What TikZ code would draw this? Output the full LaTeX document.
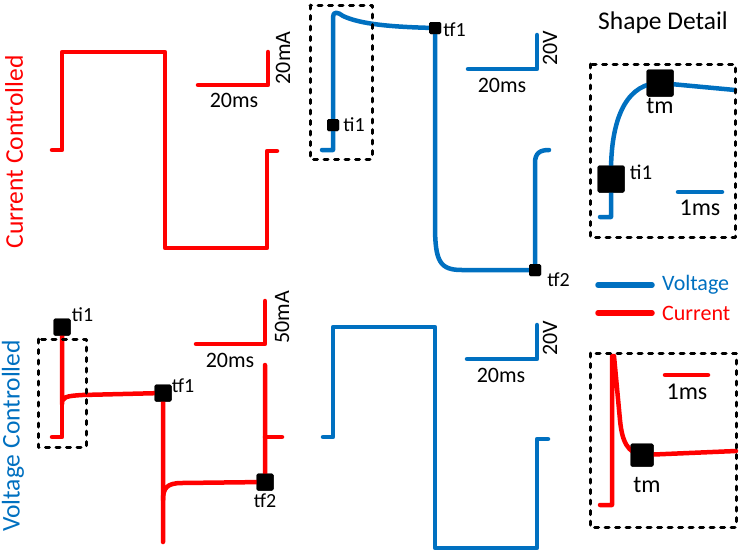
\documentclass[tikz,border=0pt]{standalone}
\usepackage{fontspec}
\setmainfont{Carlito}
\usepackage{xcolor}
\usetikzlibrary{positioning}

\definecolor{vblue}{RGB}{0,112,192}
\definecolor{ired}{RGB}{255,0,0}

\begin{document}
\begin{tikzpicture}[x=1pt, y=-1pt, line join = round, line cap = round,
        wave/.style={line width=4.5pt},
        dbox/.style={black, line width=3pt, dash pattern=on 4pt off 6.5pt},
        tmark/.style={fill=black, rounded corners=1.5pt, inner sep=0pt, minimum size=#1},
        tmark/.default=12pt,
        bigtxt/.style={inner sep=0pt, font=\fontsize{25.5}{30}\selectfont},
        sctxt/.style={inner sep=0pt, font=\fontsize{22}{26}\selectfont},
        smtxt/.style={inner sep=0pt, font=\fontsize{20}{24}\selectfont},
        dtxt/.style={inner sep=0pt, font=\fontsize{24}{28}\selectfont}]

                \useasboundingbox (0,0) rectangle (742,555);

                % row titles
                \node [bigtxt, text=ired, rotate=90] (cclab) at (14,152) {Current Controlled};
                \node [bigtxt, text=vblue, rotate=90] (vclab) at (13,436) {Voltage Controlled};
                \node [bigtxt] (sdlab) at (663,23) {Shape Detail};

                % current controlled: current
                \draw[wave, ired] (52,150) -- (62,150) -- (62,52) -- (165,52) -- (165,248)
                        -- (267,248) -- (267,151) -- (277,151);
                \draw[wave, ired] (198,85) -- (268,85) -- (268,52);
                \node [sctxt] (cc1) at (234,100) {20ms};
                \node [sctxt, rotate=90] (cc2) at (283,58) {20mA};

                % current controlled: voltage
                \node [tmark] (cti1) at (333,125) {};
                \node [tmark] (ctf1) at (435,28) {};
                \node [tmark] (ctf2) at (535,270) {};
                \draw[wave, vblue] (322,150) -- (333,150) -- (cti1.center) -- (333,17)
                        .. controls (333,11) and (338,12) .. (343,16)
                        .. controls (360,24) and (390,27) .. (ctf1.center)
                        -- (435,225) .. controls (435,262) and (440,270) .. (462,270)
                        -- (ctf2.center) -- (535,163) .. controls (535,153) and (540,150) .. (549,150);
                \node [tmark] at (cti1) {};
                \node [tmark] at (ctf1) {};
                \node [tmark] at (ctf2) {};
                \node [smtxt, right=4pt of cti1] (cti1l) {ti1};
                \node [smtxt, right=2pt of ctf1, yshift=-2pt] (ctf1l) {tf1};
                \node [smtxt, right=6pt of ctf2, yshift=-10pt] (ctf2l) {tf2};
                \draw[dbox] (310,5) rectangle (372,159);
                \draw[wave, vblue] (468,69) -- (537,69) -- (537,35);
                \node [sctxt] (cc3) at (502,85) {20ms};
                \node [sctxt, rotate=90] (cc4) at (550,48) {20V};

                % voltage controlled: current
                \node [tmark=17pt] (vti1) at (62,327) {};
                \node [tmark=17pt] (vtf1) at (163,393) {};
                \node [tmark=17pt] (vtf2) at (265,482) {};
                \draw[wave, ired] (52,437) -- (62,437) -- (vti1.center);
                \draw[wave, ired] (vti1.center) -- (62,404) .. controls (62,397) and (66,396) .. (82,395)
                        -- (vtf1.center) -- (163,542);
                \draw[wave, ired] (163,500) .. controls (163,488) and (167,483) .. (182,483)
                        -- (vtf2.center) -- (265,365);
                \draw[wave, ired] (265,437) -- (282,437);
                \node [tmark=17pt] at (vti1) {};
                \node [tmark=17pt] at (vtf1) {};
                \node [tmark=17pt] at (vtf2) {};
                \node [smtxt, right=1pt of vti1, yshift=12pt] (vti1l) {ti1};
                \node [smtxt, right=0pt of vtf1, yshift=7pt] (vtf1l) {tf1};
                \node [smtxt, below=3pt of vtf2] (vtf2l) {tf2};
                \draw[dbox] (38,339) rectangle (86,447);
                \draw[wave, ired] (196,344) -- (265,344) -- (265,301);
                \node [sctxt] (vc1) at (230,360) {20ms};
                \node [sctxt, rotate=90] (vc2) at (282,317) {50mA};

                % voltage controlled: voltage
                \draw[wave, vblue] (323,437) -- (333,437) -- (333,327) -- (435,327) -- (435,548)
                        -- (537,548) -- (537,439) -- (548,439);
                \draw[wave, vblue] (467,359) -- (537,359) -- (537,325);
                \node [sctxt] (vc3) at (501,375) {20ms};
                \node [sctxt, rotate=90] (vc4) at (550,338) {20V};

                % shape detail: voltage
                \node [tmark=27pt] (dti1) at (611,179) {};
                \node [tmark=27pt] (dtm1) at (660,83) {};
                \draw[wave, vblue] (600,217) -- (611,217) -- (dti1.center) -- (611,172)
                        .. controls (611,112) and (630,83) .. (dtm1.center) -- (735,90);
                \node [tmark=27pt] at (dti1) {};
                \node [tmark=27pt] at (dtm1) {};
                \node [dtxt, font=\fontsize{21}{25}\selectfont, right=5pt of dti1, yshift=7pt] (dti1l) {ti1};
                \node [dtxt, below=1pt of dtm1] (dtm1l) {tm};
                \draw[wave, vblue] (678,192) -- (722,192);
                \node [dtxt] (d1) at (700,208) {1ms};
                \draw[dbox] (590,64) rectangle (735,237);

                % legend
                \draw[wave, line width=5.5pt, vblue] (598,285) -- (652,285);
                \node [sctxt, text=vblue, anchor=west] (lgv) at (662,285) {Voltage};
                \draw[wave, line width=5.5pt, ired] (598,313) -- (652,313);
                \node [sctxt, text=ired, anchor=west] (lgc) at (662,313) {Current};

                % shape detail: current
                \node [tmark=23pt] (dtm2) at (642,455) {};
                \draw[wave, ired] (600,505) -- (612,505) -- (612,356) -- (614,356) -- (620,420)
                        .. controls (622,442) and (628,453) .. (dtm2.center) -- (736,451);
                \node [tmark=23pt] at (dtm2) {};
                \node [dtxt, below=10pt of dtm2, xshift=5pt] (dtm2l) {tm};
                \draw[wave, ired] (665,375) -- (708,375);
                \node [dtxt] (d2) at (687,392) {1ms};
                \draw[dbox] (590,353) rectangle (736,527);

\end{tikzpicture}
\end{document}
